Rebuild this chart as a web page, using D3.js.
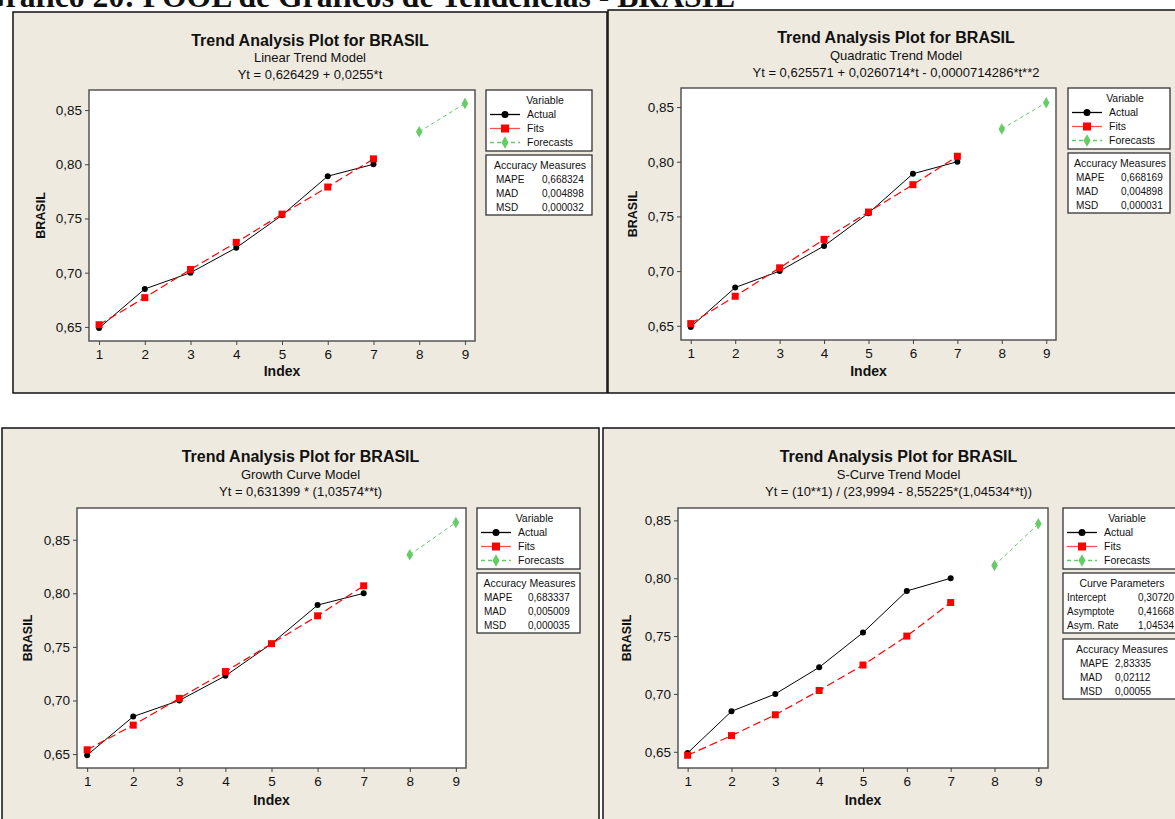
<!DOCTYPE html>
<html>
<head>
<meta charset="utf-8">
<script src="https://cdn.jsdelivr.net/npm/d3@7"></script>
<style>
  body { margin: 0; background: #fff; }
  svg text { font-family: "Liberation Sans", Arial, sans-serif; fill: #111; }
</style>
</head>
<body>
<div id="chart"></div>
<script>
// ---- data ----
var index = [1, 2, 3, 4, 5, 6, 7];
var forecastIndex = [8, 9];
var xTicks = [1, 2, 3, 4, 5, 6, 7, 8, 9];
var yTicks = [0.65, 0.70, 0.75, 0.80, 0.85];

var actual = [0.649, 0.685, 0.700, 0.723, 0.753, 0.789, 0.800];

var linearFits = [0.652, 0.677, 0.703, 0.728, 0.754, 0.779, 0.805];
var linearForecasts = [0.830, 0.856];
var quadraticFits = [0.652, 0.677, 0.703, 0.729, 0.754, 0.779, 0.805];
var quadraticForecasts = [0.830, 0.854];
var growthFits = [0.654, 0.677, 0.702, 0.727, 0.753, 0.779, 0.807];
var growthForecasts = [0.836, 0.866];
var sCurveFits = [0.647, 0.664, 0.682, 0.703, 0.725, 0.750, 0.779];
var sCurveForecasts = [0.811, 0.847];

var modelNames = ["Linear Trend Model", "Quadratic Trend Model", "Growth Curve Model", "S-Curve Trend Model"];
var equations = [
  "Yt = 0,626429 + 0,0255*t",
  "Yt = 0,625571 + 0,0260714*t - 0,0000714286*t**2",
  "Yt = 0,631399 * (1,03574**t)",
  "Yt = (10**1) / (23,9994 - 8,55225*(1,04534**t))"
];
var measureNames = ["MAPE", "MAD", "MSD"];
var linearMeasures = ["0,668324", "0,004898", "0,000032"];
var quadraticMeasures = ["0,668169", "0,004898", "0,000031"];
var growthMeasures = ["0,683337", "0,005009", "0,000035"];
var sCurveMeasures = ["2,83335", "0,02112", "0,00055"];
var curveParamNames = ["Intercept", "Asymptote", "Asym. Rate"];
var sCurveParams = ["0,30720", "0,41668", "1,04534"];
var legendNames = ["Actual", "Fits", "Forecasts"];

var pageTitle = "Gráfico 20: POOL de Gráficos de Tendências - BRASIL";

var models = [
  { fits: linearFits, forecasts: linearForecasts, measures: linearMeasures },
  { fits: quadraticFits, forecasts: quadraticForecasts, measures: quadraticMeasures },
  { fits: growthFits, forecasts: growthForecasts, measures: growthMeasures },
  { fits: sCurveFits, forecasts: sCurveForecasts, measures: sCurveMeasures, params: sCurveParams }
];

// ---- layout of each panel (pixels) ----
var layouts = [
  { box: [13, 12, 607, 393], plot: [89, 90, 475, 341], yDomain: [0.637, 0.8685], titleY: 40,
    legX: 486, legW: 106, legY: 90, accLabel: 10, accValue: 56, ylabX: 41, xlabY: 371 },
  { box: [608, 10, 1184, 393], plot: [681, 88, 1056, 340], yDomain: [0.637, 0.8674], titleY: 37.7,
    legX: 1068, legW: 102, legY: 88, accLabel: 8, accValue: 53, ylabX: 633, xlabY: 371 },
  { box: [2, 428, 599, 830], plot: [77, 508, 466, 768], yDomain: [0.637, 0.8796], titleY: 456.7,
    legX: 477, legW: 103, legY: 508, accLabel: 7, accValue: 51, ylabX: 28, xlabY: 800 },
  { box: [603, 428, 1194, 830], plot: [678, 508, 1048, 768], yDomain: [0.636, 0.8607], titleY: 456.7,
    legX: 1063, legW: 116, legY: 508, accLabel: 17, accValue: 52, ylabX: 627, xlabY: 800 }
];

var comma = d3.formatLocale({ decimal: ",", thousands: ".", grouping: [3], currency: ["", ""] }).format(".2f");

var panelFill = "#EEEAE0";
var red = "#FF0000";
var green = "#66CC66";

var svg = d3.select("#chart").append("svg")
  .attr("width", 1175)
  .attr("height", 819);

svg.append("rect").attr("width", 1175).attr("height", 819).attr("fill", "#fff");

models.forEach(function (m, i) {
  drawPanel(m, i, layouts[i]);
});

// page title, cut by the top edge like in the scan
svg.append("text")
  .attr("x", -19)
  .attr("y", 7)
  .attr("textLength", 754)
  .attr("lengthAdjust", "spacingAndGlyphs")
  .style("font-family", "'Liberation Serif', 'Times New Roman', serif")
  .style("font-weight", "bold")
  .style("font-size", "31px")
  .text(pageTitle);

function drawPanel(m, i, lay) {
  var g = svg.append("g");
  var b = lay.box, p = lay.plot;

  g.append("rect")
    .attr("x", b[0]).attr("y", b[1])
    .attr("width", b[2] - b[0]).attr("height", b[3] - b[1])
    .attr("fill", panelFill)
    .attr("stroke", "#111")
    .attr("stroke-width", 1.5);

  var cx = (b[0] + b[2]) / 2;
  g.append("text").attr("x", cx).attr("y", lay.titleY).attr("dy", "0.35em")
    .attr("text-anchor", "middle")
    .style("font-weight", "bold").style("font-size", "16px")
    .text("Trend Analysis Plot for BRASIL");
  g.append("text").attr("x", cx).attr("y", lay.titleY + 17.5).attr("dy", "0.35em")
    .attr("text-anchor", "middle").style("font-size", "13px")
    .text(modelNames[i]);
  g.append("text").attr("x", cx).attr("y", lay.titleY + 34.5).attr("dy", "0.35em")
    .attr("text-anchor", "middle").style("font-size", "13px")
    .text(equations[i]);

  // plot area
  g.append("rect")
    .attr("x", p[0]).attr("y", p[1])
    .attr("width", p[2] - p[0]).attr("height", p[3] - p[1])
    .attr("fill", "#fff")
    .attr("stroke", "#555")
    .attr("stroke-width", 1.5);

  var x = d3.scaleLinear().domain([0.78, 9.22]).range([p[0], p[2]]);
  var y = d3.scaleLinear().domain(lay.yDomain).range([p[3], p[1]]);

  var xAxis = g.append("g")
    .attr("transform", "translate(0," + p[3] + ")")
    .call(d3.axisBottom(x).tickValues(xTicks).tickSize(4).tickSizeOuter(0).tickPadding(4));
  var yAxis = g.append("g")
    .attr("transform", "translate(" + p[0] + ",0)")
    .call(d3.axisLeft(y).tickValues(yTicks).tickFormat(comma).tickSize(4).tickSizeOuter(0).tickPadding(3));
  [xAxis, yAxis].forEach(function (a) {
    a.select(".domain").remove();
    a.selectAll("line").attr("stroke", "#444");
    a.selectAll("text").style("font-size", "13.5px").style("font-family", "'Liberation Sans', Arial, sans-serif").attr("fill", "#111");
  });

  g.append("text").attr("x", (p[0] + p[2]) / 2).attr("y", lay.xlabY).attr("dy", "0.35em")
    .attr("text-anchor", "middle").style("font-weight", "bold").style("font-size", "14px")
    .text("Index");
  g.append("text")
    .attr("transform", "translate(" + lay.ylabX + "," + ((p[1] + p[3]) / 2) + ") rotate(-90)")
    .attr("dy", "0.35em")
    .attr("text-anchor", "middle").style("font-weight", "bold").style("font-size", "12.5px")
    .text("BRASIL");

  var line = d3.line().x(function (d) { return x(d[0]); }).y(function (d) { return y(d[1]); });
  var actualPts = d3.zip(index, actual);
  var fitPts = d3.zip(index, m.fits);
  var fcPts = d3.zip(forecastIndex, m.forecasts);

  g.append("path").datum(fcPts).attr("d", line)
    .attr("fill", "none").attr("stroke", green).attr("stroke-width", 1).attr("stroke-dasharray", "4,3");
  g.selectAll(".fc").data(fcPts).enter().append("path")
    .attr("transform", function (d) { return "translate(" + x(d[0]) + "," + y(d[1]) + ")"; })
    .attr("d", d3.symbol().type(d3.symbolDiamond).size(38))
    .attr("fill", green);

  g.append("path").datum(actualPts).attr("d", line)
    .attr("fill", "none").attr("stroke", "#000").attr("stroke-width", 1);
  g.append("path").datum(fitPts).attr("d", line)
    .attr("fill", "none").attr("stroke", red).attr("stroke-width", 1.2).attr("stroke-dasharray", "8,4");
  g.selectAll(".act").data(actualPts).enter().append("circle")
    .attr("cx", function (d) { return x(d[0]); })
    .attr("cy", function (d) { return y(d[1]); })
    .attr("r", 3).attr("fill", "#000");
  g.selectAll(".fit").data(fitPts).enter().append("rect")
    .attr("x", function (d) { return x(d[0]) - 3.5; })
    .attr("y", function (d) { return y(d[1]) - 3.5; })
    .attr("width", 7).attr("height", 7).attr("fill", red);

  // legend
  var lx = lay.legX, ly = lay.legY, w = lay.legW;
  g.append("rect").attr("x", lx).attr("y", ly).attr("width", w).attr("height", 61)
    .attr("fill", "#fff").attr("stroke", "#333").attr("stroke-width", 1.3);
  g.append("text").attr("x", lx + w / 2 + 6).attr("y", ly + 10.5).attr("dy", "0.35em")
    .attr("text-anchor", "middle").style("font-size", "10.5px").text("Variable");
  var styles = [
    { c: "#000", dash: null, mark: "circle" },
    { c: "#FF5050", dash: null, mark: "square" },
    { c: green, dash: "4,3", mark: "diamond" }
  ];
  legendNames.forEach(function (name, k) {
    var ry = ly + 24.5 + k * 14;
    var s = styles[k];
    var ln = g.append("line").attr("x1", lx + 4).attr("x2", lx + 34).attr("y1", ry).attr("y2", ry)
      .attr("stroke", s.c).attr("stroke-width", 1.3);
    if (s.dash) ln.attr("stroke-dasharray", s.dash);
    if (s.mark === "circle") {
      g.append("circle").attr("cx", lx + 19).attr("cy", ry).attr("r", 3.5).attr("fill", "#000");
    } else if (s.mark === "square") {
      g.append("rect").attr("x", lx + 15).attr("y", ry - 4).attr("width", 8).attr("height", 8).attr("fill", red);
    } else {
      g.append("path").attr("transform", "translate(" + (lx + 19) + "," + ry + ")")
        .attr("d", d3.symbol().type(d3.symbolDiamond).size(45)).attr("fill", green);
    }
    g.append("text").attr("x", lx + 41).attr("y", ry).attr("dy", "0.35em")
      .style("font-size", "10.5px").text(name);
  });

  var by = ly + 65;
  if (m.params) {
    drawTable(g, lx, by, w, "Curve Parameters", curveParamNames, m.params, 4, 75);
    by += 66;
  }
  drawTable(g, lx, by, w, "Accuracy Measures", measureNames, m.measures, lay.accLabel, lay.accValue);
}

function drawTable(g, lx, ty, w, header, names, values, labelOff, valueOff) {
  g.append("rect").attr("x", lx).attr("y", ty).attr("width", w).attr("height", 60)
    .attr("fill", "#fff").attr("stroke", "#333").attr("stroke-width", 1.3);
  g.append("text").attr("x", lx + w / 2 + 1).attr("y", ty + 10).attr("dy", "0.35em")
    .attr("text-anchor", "middle").style("font-size", "10.5px").text(header);
  names.forEach(function (n, k) {
    var ry = ty + 24.5 + k * 14;
    g.append("text").attr("x", lx + labelOff).attr("y", ry).attr("dy", "0.35em")
      .style("font-size", "10px").text(n);
    g.append("text").attr("x", lx + valueOff).attr("y", ry).attr("dy", "0.35em")
      .style("font-size", "10px").text(values[k]);
  });
}
</script>
</body>
</html>
